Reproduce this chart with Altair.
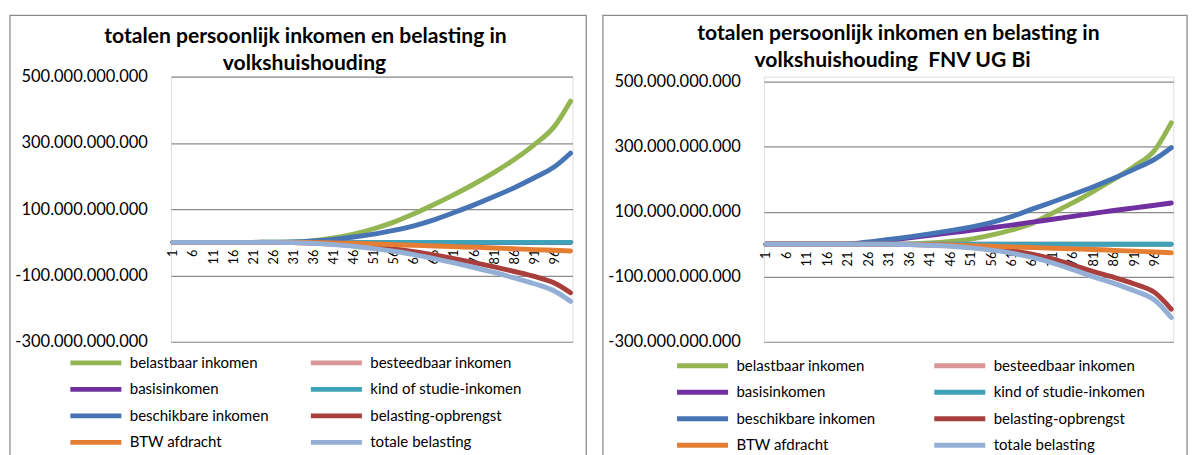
import altair as alt
import pandas as pd

FONT = "Lato"

cats = [1, 6, 11, 16, 21, 26, 31, 36, 41, 46, 51, 56, 61, 66, 71, 76, 81, 86, 91, 96, 100]
tick_labels = [1, 6, 11, 16, 21, 26, 31, 36, 41, 46, 51, 56, 61, 66, 71, 76, 81, 86, 91, 96]
y_ticks = [-300, -100, 100, 300, 500]

names = ["belastbaar inkomen", "besteedbaar inkomen", "basisinkomen", "kind of studie-inkomen",
         "beschikbare inkomen", "belasting-opbrengst", "BTW afdracht", "totale belasting"]
colors = ["#93B552", "#D99694", "#7030A0", "#3FA2B8", "#4674B4", "#A83F3C", "#E57E33", "#94AFD6"]

left_title = ["totalen persoonlijk inkomen en belasting in", "volkshuishouding"]
right_title = ["totalen persoonlijk inkomen en belasting in", "volkshuishouding\u00a0 FNV UG Bi"]

# values in billions (x 1.000.000.000)
L_belastbaar = [0, 0, 0, 0, 0, 0.3, 1, 5, 13, 25, 41, 61, 86, 114, 144, 176, 211, 250, 295, 350, 426]
L_besteedbaar = [0, 0, 0, 0, 0, 0, 0, 0, 0, 0, 0, 0, 0, 0, 0, 0, 0, 0, 0, 0, 0]
L_basis = [0, 0, 0, 0, 0, 0, 0, 0, 0, 0, 0, 0, 0, 0, 0, 0, 0, 0, 0, 0, 0]
L_kind = [0, 0, 0, 0, 0, 0, 0, 0, 0, 0, 0, 0, 0, 0, 0, 0, 0, 0, 0, 0, 0]
L_beschikbare = [0, 0, 0, 0, 0, 0.2, 1, 4, 9, 16, 25, 36, 50, 68, 90, 113, 138, 165, 195, 228, 269]
L_belasting = [0, 0, 0, 0, 0, 0, -1, -2, -5, -9, -14, -20, -28, -38, -49, -61, -74, -88, -103, -123, -152]
L_btw = [0, 0, 0, 0, 0, 0, 0, -1, -2, -3, -5, -7, -9, -11, -13, -15, -17, -19.5, -22, -24, -26]
L_totale = [0, 0, 0, 0, 0, 0, -1, -3, -7, -12, -19, -27, -37, -49, -62, -76, -91, -107.5, -125, -147, -178]

R_belastbaar = [0, 0, 0, 0, 0, 0, 0.3, 1, 4, 9, 16, 28, 44, 64, 96, 128, 163, 200, 240, 290, 373]
R_besteedbaar = [0, 0, 0, 0, 0, 0, 0, 0, 0, 0, 0, 0, 0, 0, 0, 0, 0, 0, 0, 0, 0]
R_basis = [0, 0, 0, 0, 0, 6, 13, 20, 28, 35, 43, 51, 59, 68, 77, 86, 95, 104, 112, 120, 127]
R_kind = [0, 0, 0, 0, 0, 0, 0, 0, 0, 0, 0, 0, 0, 0, 0, 0, 0, 0, 0, 0, 0]
R_beschikbare = [0, 0, 0, 0, 0.5, 7, 15, 23, 32, 42, 53, 67, 85, 108, 130, 153, 177, 203, 231, 262, 297]
R_belasting = [0, 0, 0, 0, 0, 0, 0, -0.5, -2, -4, -7, -12, -19, -30, -45, -64, -84, -101.5, -122, -148.5, -199]
R_btw = [0, 0, 0, 0, 0, 0, 0, -0.5, -1, -2, -4, -6, -8, -10, -12, -14, -16, -18.5, -21, -23.5, -26]
R_totale = [0, 0, 0, 0, 0, 0, 0, -1, -3, -6, -11, -18, -27, -40, -57, -78, -100, -120, -143, -172, -225]

left_series = [L_belastbaar, L_besteedbaar, L_basis, L_kind, L_beschikbare, L_belasting, L_btw, L_totale]
right_series = [R_belastbaar, R_besteedbaar, R_basis, R_kind, R_beschikbare, R_belasting, R_btw, R_totale]

GRID = "#8C8C8C"


def panel(series, title, width, height, y_max, legend_x, legend_y, col_pad, t1, t2):
    rows = []
    for name, vals in zip(names, series):
        for c, v in zip(cats, vals):
            rows.append({"cat": c, "value": v, "serie": name})
    df = pd.DataFrame(rows)
    zero_offset = -height * 300.0 / (y_max + 300.0)

    lines = alt.Chart(df).mark_line(
        strokeWidth=5, strokeCap="round", strokeJoin="round", interpolate="monotone"
    ).encode(
        x=alt.X("cat:Q", scale=alt.Scale(domain=[0.5, 100.5], nice=False, zero=False),
                axis=alt.Axis(values=tick_labels, title=None, grid=False, domain=False, ticks=False,
                              labelAngle=270, labelAlign="right", labelBaseline="middle",
                              labelPadding=7, labelFontSize=13, labelFont=FONT, labelColor="black",
                              labelOverlap=False, labelFlush=False, offset=zero_offset)),
        y=alt.Y("value:Q", scale=alt.Scale(domain=[-300, y_max], nice=False, zero=False),
                axis=alt.Axis(values=y_ticks, title=None, grid=True, gridColor=GRID, gridWidth=1.2,
                              domain=False, ticks=False, labelPadding=24, labelFontSize=16.8,
                              labelFont=FONT, labelColor="black",
                              labelExpr="(datum.value < 0 ? '-' : '') + abs(datum.value) + '.000.000.000'")),
        color=alt.Color("serie:N", scale=alt.Scale(domain=names, range=colors),
                        legend=alt.Legend(title=None, orient="none", legendX=legend_x, legendY=legend_y,
                                          direction="horizontal", columns=2, symbolType="stroke",
                                          symbolSize=2700, symbolStrokeWidth=5, labelFont=FONT,
                                          labelFontSize=15.3, labelColor="black", clipHeight=18,
                                          rowPadding=9, columnPadding=col_pad, labelOffset=6,
                                          gridAlign="all", symbolOpacity=1)),
    )

    border = alt.Chart(pd.DataFrame({"b": [0]})).mark_rect(
        fill="transparent", stroke=GRID, strokeWidth=1.3
    ).encode(
        x=alt.value(-164), x2=alt.value(width + 14),
        y=alt.value(-62.5), y2=alt.value(410)
    )

    tdf = pd.DataFrame({"b": [0]})
    title1 = alt.Chart(tdf).mark_text(
        font=FONT, fontSize=21.5, fontWeight="bold", color="black", align="center", baseline="middle"
    ).encode(x=alt.value(t1[0]), y=alt.value(t1[1]), text=alt.value(title[0]))
    title2 = alt.Chart(tdf).mark_text(
        font=FONT, fontSize=21.5, fontWeight="bold", color="black", align="center", baseline="middle"
    ).encode(x=alt.value(t2[0]), y=alt.value(t2[1]), text=alt.value(title[1]))

    return alt.layer(border, title1, title2, lines).properties(width=width, height=height)


left = panel(left_series, left_title, 409, 270, 500, -105, 282.5, 27, (137, -40.5), (136, -12.5))
right = panel(right_series, right_title, 417, 270.2, 515.2, -91, 285.5, 44, (137, -43.5), (131, -15.5))

chart = alt.hconcat(left, right, spacing=13).resolve_scale(
    x="independent", y="independent", color="independent"
).resolve_legend(color="independent").properties(
    padding={"left": 0, "top": 1.5, "right": 0, "bottom": 0}
).configure_view(stroke=None).configure(background="white")

chart.save("out.html", embed_options={"renderer": "svg", "actions": False})
